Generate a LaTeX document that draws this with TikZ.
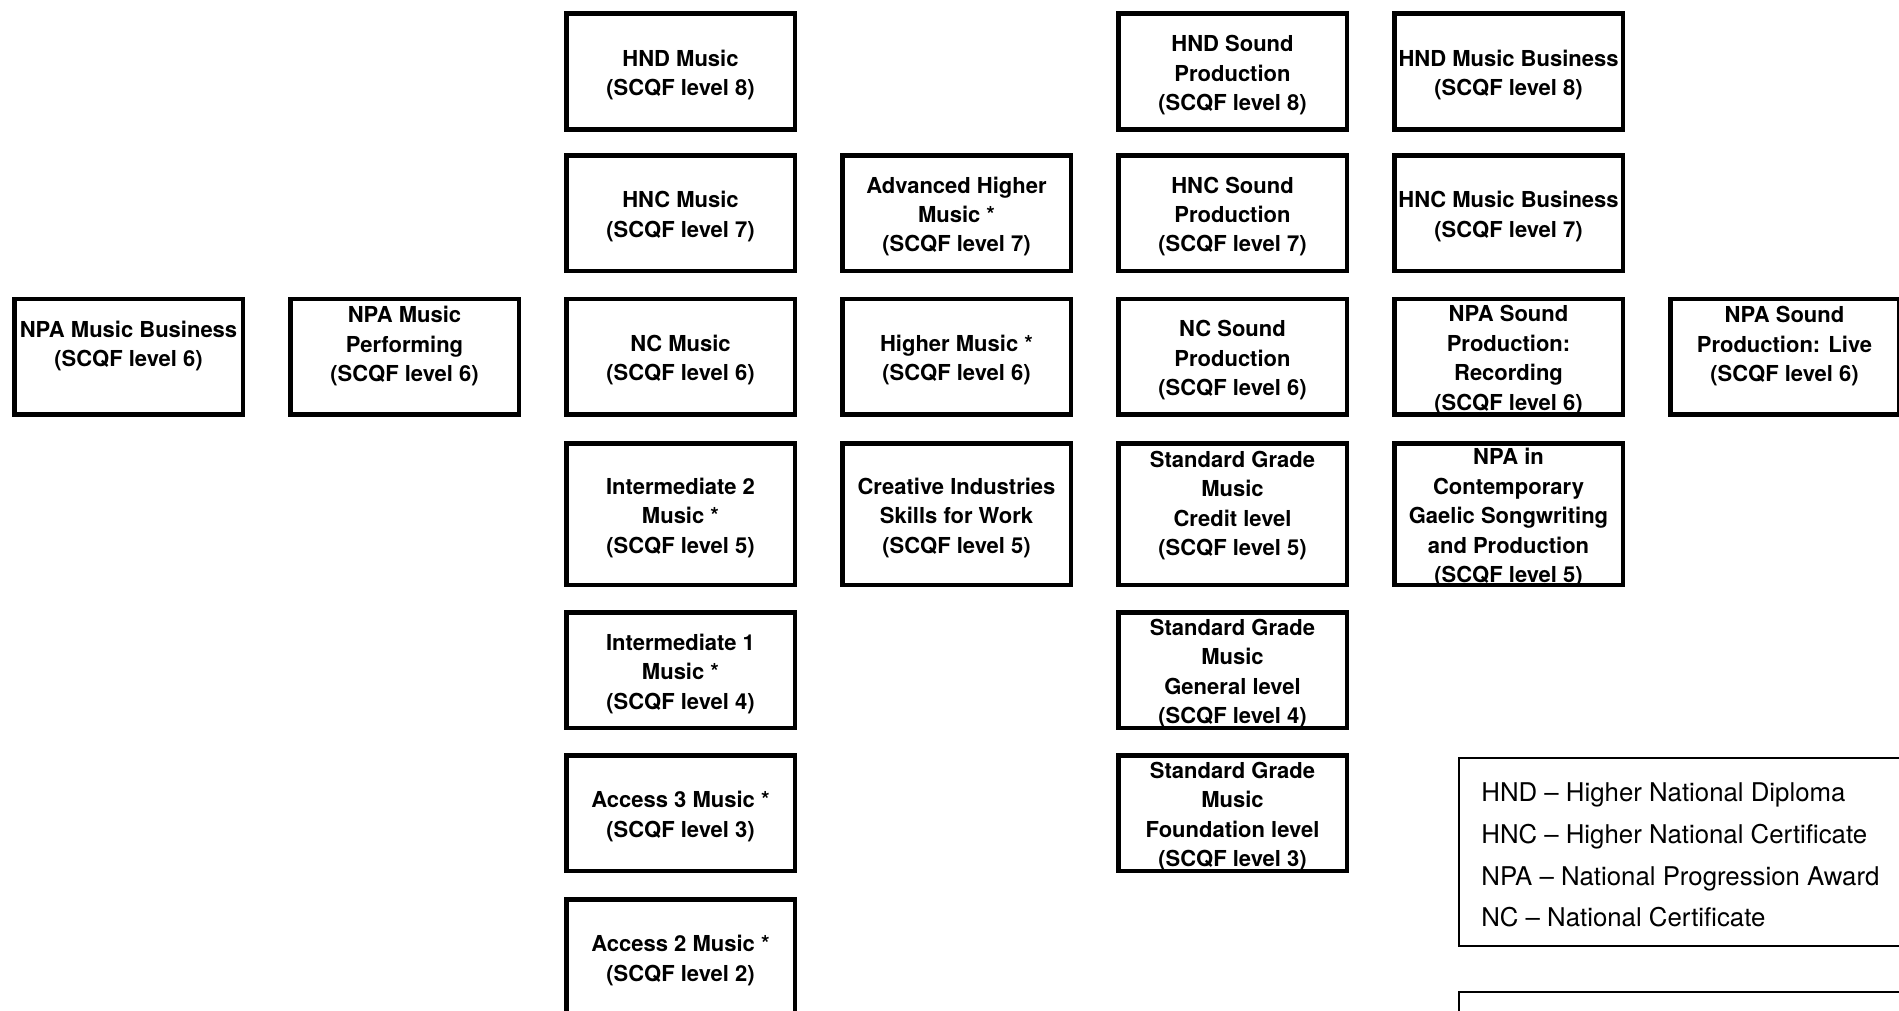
\documentclass[tikz,border=0pt]{standalone}
\usepackage{fontspec}
\setmainfont{TeX Gyre Heros}
\begin{document}
\begin{tikzpicture}[x=0.5pt,y=-0.5pt,
  box/.style={draw,line width=2.25pt,minimum width=114.25pt,minimum height=57.75pt,inner sep=0pt},
  tall/.style={minimum height=70.75pt},
  txt/.style={align=center,inner sep=0pt,yshift=-1.8pt,font=\fontsize{11}{14.7}\selectfont\bfseries},
  key/.style={anchor=base west,inner sep=0pt,font=\fontsize{12.9}{15}\selectfont}]
\useasboundingbox (0,0) rectangle (1899,1011);
% NPA awards on their own
\node[box] (npabus) at (128.5,356.5) {};
\node[txt,yshift=7pt] (npabus-t) at (npabus) {NPA Music Business\\(SCQF level 6)};
\node[box] (npaperf) at (404.5,356.5) {};
\node[txt,yshift=7pt] (npaperf-t) at (npaperf) {NPA Music\\Performing\\(SCQF level 6)};
\node[box] (npalive) at (1784.5,356.5) {};
\node[txt,yshift=7pt] (npalive-t) at (npalive) {NPA Sound\\Production: Live\\(SCQF level 6)};
% music ladder
\node[box] (hndmus) at (680.5,71.5) {};
\node[txt] (hndmus-t) at (hndmus) {HND Music\\(SCQF level 8)};
\node[box] (hncmus) at (680.5,213) {};
\node[txt] (hncmus-t) at (hncmus) {HNC Music\\(SCQF level 7)};
\node[box] (ncmus) at (680.5,356.5) {};
\node[txt] (ncmus-t) at (ncmus) {NC Music\\(SCQF level 6)};
\node[box,tall] (int2) at (680.5,514) {};
\node[txt] (int2-t) at (int2) {Intermediate 2\\Music *\\(SCQF level 5)};
\node[box] (int1) at (680.5,670) {};
\node[txt] (int1-t) at (int1) {Intermediate 1\\Music *\\(SCQF level 4)};
\node[box] (acc3) at (680.5,813) {};
\node[txt] (acc3-t) at (acc3) {Access 3 Music *\\(SCQF level 3)};
\node[box] (acc2) at (680.5,957) {};
\node[txt] (acc2-t) at (acc2) {Access 2 Music *\\(SCQF level 2)};
% highers
\node[box] (advh) at (956.5,213) {};
\node[txt] (advh-t) at (advh) {Advanced Higher\\Music *\\(SCQF level 7)};
\node[box] (higher) at (956.5,356.5) {};
\node[txt] (higher-t) at (higher) {Higher Music *\\(SCQF level 6)};
\node[box,tall] (skills) at (956.5,514) {};
\node[txt] (skills-t) at (skills) {Creative Industries\\Skills for Work\\(SCQF level 5)};
% sound production and standard grades
\node[box] (hndsnd) at (1232.5,71.5) {};
\node[txt] (hndsnd-t) at (hndsnd) {HND Sound\\Production\\(SCQF level 8)};
\node[box] (hncsnd) at (1232.5,213) {};
\node[txt] (hncsnd-t) at (hncsnd) {HNC Sound\\Production\\(SCQF level 7)};
\node[box] (ncsnd) at (1232.5,356.5) {};
\node[txt] (ncsnd-t) at (ncsnd) {NC Sound\\Production\\(SCQF level 6)};
\node[box,tall] (sgcred) at (1232.5,514) {};
\node[txt,yshift=6pt] (sgcred-t) at (sgcred) {Standard Grade\\Music\\Credit level\\(SCQF level 5)};
\node[box] (sggen) at (1232.5,670) {};
\node[txt] (sggen-t) at (sggen) {Standard Grade\\Music\\General level\\(SCQF level 4)};
\node[box] (sgfound) at (1232.5,813) {};
\node[txt] (sgfound-t) at (sgfound) {Standard Grade\\Music\\Foundation level\\(SCQF level 3)};
% music business
\node[box] (hndbus) at (1508.5,71.5) {};
\node[txt] (hndbus-t) at (hndbus) {HND Music Business\\(SCQF level 8)};
\node[box] (hncbus) at (1508.5,213) {};
\node[txt] (hncbus-t) at (hncbus) {HNC Music Business\\(SCQF level 7)};
\node[box] (npareco) at (1508.5,356.5) {};
\node[txt] (npareco-t) at (npareco) {NPA Sound\\Production:\\Recording\\(SCQF level 6)};
\node[box,tall] (gaelic) at (1508.5,514) {};
\node[txt] (gaelic-t) at (gaelic) {NPA in\\Contemporary\\Gaelic Songwriting\\and Production\\(SCQF level 5)};
% key
\draw[line width=0.75pt] (1459,758) rectangle (1920,946);
\draw[line width=0.75pt] (1459,992) rectangle (1920,1060);
\foreach \k [count=\i] in {HND -- Higher National Diploma,HNC -- Higher National Certificate,NPA -- National Progression Award,NC -- National Certificate}
  \node[key] (key\i) at (1481,{801.7+41.7*(\i-1)}) {\k};
\end{tikzpicture}
\end{document}
